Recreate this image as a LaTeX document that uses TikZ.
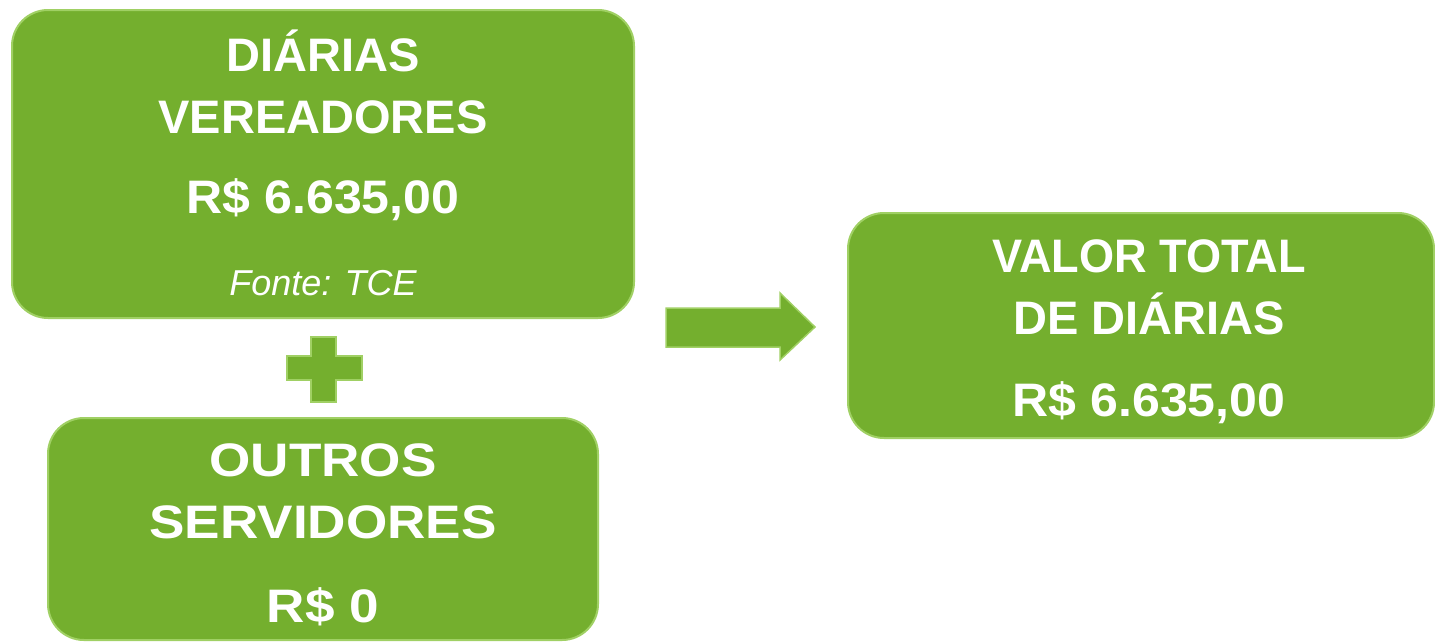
\documentclass[tikz,border=0pt]{standalone}
\usepackage{fontspec}
\setmainfont{Liberation Sans}
\newfontfamily\moneyfont[FakeStretch=1.065]{Liberation Sans}
\newfontfamily\widefont[FakeStretch=1.13]{Liberation Sans}
\newfontfamily\narrowfont[FakeStretch=0.96]{Liberation Sans}
\definecolor{box green}{RGB}{116,175,46}
\definecolor{box edge}{RGB}{160,208,100}
\tikzset{greenbox/.style={fill=box green, draw=box edge, line width=2pt,
        rounded corners=36pt},
    boxtext/.style={text=white, align=center,
        font=\bfseries\fontsize{47}{62}\selectfont},
    greenshape/.style={fill=box green, draw=box edge, line width=1.5pt}}
\newcommand{\fonte}{\mdseries\itshape\fontsize{36}{44}\selectfont}
\newcommand{\money}{\moneyfont\bfseries}

\begin{document}
\begin{tikzpicture}[x=1pt,y=1pt]
    \useasboundingbox (0,0) rectangle (1435,-641);

    \node[greenbox, minimum width=622pt, minimum height=308pt,
        label={[boxtext, yshift=1pt]center:{DIÁRIAS\\VEREADORES\\[18pt]{\money R\$ 6.635,00}\\[20pt]{\fonte Fonte: TCE}}}]
        (vereadores) at (323,-164) {};
    \node[greenbox, minimum width=550pt, minimum height=222pt,
        label={[boxtext, yshift=-6pt, font=\widefont\bfseries\fontsize{47}{62}\selectfont]center:{OUTROS\\SERVIDORES\\[22pt]R\$ 0}}]
        (servidores) at (323,-529) {};
    \node[greenbox, minimum width=586pt, minimum height=225pt,
        label={[boxtext, xshift=8pt, yshift=-6pt]center:{{\narrowfont\bfseries VALOR TOTAL}\\DE DIÁRIAS\\[20pt]{\money R\$ 6.635,00}}}]
        (total) at (1141,-325.5) {};

    % plus sign
    \draw[greenshape] (311,-337) -- (336,-337) -- (336,-356) -- (362,-356) -- (362,-380)
        -- (336,-380) -- (336,-402) -- (311,-402) -- (311,-380) -- (287,-380)
        -- (287,-356) -- (311,-356) -- cycle;

    % arrow
    \coordinate (tip) at (815,-327);
    \draw[greenshape] (666,-308) -- (780,-308) -- (780,-293) -- (tip) -- (780,-360)
        -- (780,-347) -- (666,-347) -- cycle;

\end{tikzpicture}
\end{document}
